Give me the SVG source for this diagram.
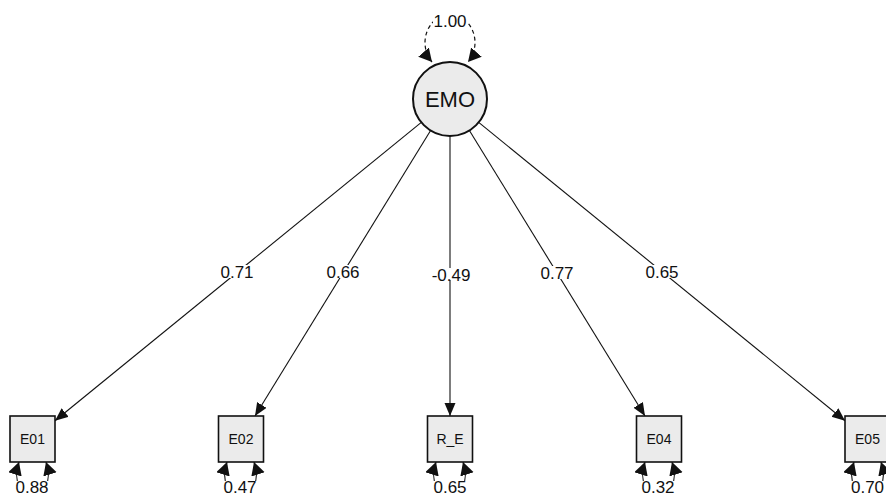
<svg xmlns="http://www.w3.org/2000/svg" width="886" height="496" viewBox="0 0 886 496">
<style>
.lat{fill:#ebebeb;stroke:#111;stroke-width:2}
.man{fill:#ebebeb;stroke:#111;stroke-width:1.6}
.edge{fill:none;stroke:#111;stroke-width:1.1}
.dash{fill:none;stroke:#111;stroke-width:1.2;stroke-dasharray:4 3}
.t{font-family:"Liberation Sans",Arial,sans-serif;fill:#111;text-anchor:middle}
.lbl{font-size:17px}
.box{font-size:14px}
.bg{fill:#fff}
</style>
<defs>
<marker id="ah" markerUnits="userSpaceOnUse" markerWidth="14" markerHeight="12" refX="13" refY="5.5" orient="auto">
<path d="M0,0 L13,5.5 L0,11 z" fill="#111"/>
</marker>
<marker id="eh" markerUnits="userSpaceOnUse" markerWidth="15" markerHeight="15" refX="13" refY="7" orient="auto-start-reverse">
<path d="M0,0 L13,7 L0,14 z" fill="#111"/>
</marker>
</defs>
<rect width="886" height="496" fill="#fff"/>
<g id="connectors">
<path class="edge" d="M421.3,122.4 L55,420.7" marker-end="url(#ah)"/>
<path class="edge" d="M430.6,130.5 L255,416" marker-end="url(#ah)"/>
<path class="edge" d="M450,136 L450,416" marker-end="url(#ah)"/>
<path class="edge" d="M469.4,130.5 L645,416" marker-end="url(#ah)"/>
<path class="edge" d="M478.7,122.4 L845,420.7" marker-end="url(#ah)"/>
<path class="dash" d="M432,62 A25 28 0 1 1 468,62" marker-start="url(#eh)" marker-end="url(#eh)"/>
<path class="edge" d="M19,462 C5,505 60,505 46,462" marker-start="url(#eh)" marker-end="url(#eh)"/>
<path class="edge" d="M227,462 C213,505 268,505 254,462" marker-start="url(#eh)" marker-end="url(#eh)"/>
<path class="edge" d="M436,462 C422,505 477,505 463,462" marker-start="url(#eh)" marker-end="url(#eh)"/>
<path class="edge" d="M645,462 C631,505 686,505 672,462" marker-start="url(#eh)" marker-end="url(#eh)"/>
<path class="edge" d="M854,462 C840,505 895,505 881,462" marker-start="url(#eh)" marker-end="url(#eh)"/>
<rect class="bg" x="220" y="265" width="35" height="13"/>
<rect class="bg" x="325" y="265" width="36" height="13"/>
<rect class="bg" x="429" y="268" width="45" height="12"/>
<rect class="bg" x="539" y="266" width="37" height="13"/>
<rect class="bg" x="644" y="265" width="36" height="13"/>
<rect class="bg" x="433" y="14" width="34" height="13"/>
<rect class="bg" x="14" y="481" width="37" height="15"/>
<rect class="bg" x="222" y="481" width="37" height="15"/>
<rect class="bg" x="431" y="481" width="38" height="15"/>
<rect class="bg" x="639" y="481" width="38" height="15"/>
<rect class="bg" x="849" y="481" width="37" height="15"/>
<text class="t lbl" x="237" y="278">0.71</text>
<text class="t lbl" x="343" y="278">0.66</text>
<text class="t lbl" x="451" y="281">-0.49</text>
<text class="t lbl" x="557" y="279">0.77</text>
<text class="t lbl" x="662" y="278">0.65</text>
<text class="t lbl" x="450" y="27">1.00</text>
</g>
<g id="EMO">
<circle class="lat" cx="450" cy="99" r="37"/>
<text class="t" x="450" y="107" font-size="22">EMO</text>
</g>
<g id="E01">
<rect class="man" x="10" y="416" width="45" height="46"/>
<text class="t box" x="32.5" y="444">E01</text>
<text class="t lbl" x="32" y="493">0.88</text>
</g>
<g id="E02">
<rect class="man" x="218.5" y="416" width="45" height="46"/>
<text class="t box" x="241" y="444">E02</text>
<text class="t lbl" x="240" y="493">0.47</text>
</g>
<g id="R_E">
<rect class="man" x="427.5" y="416" width="45" height="46"/>
<text class="t box" x="450" y="444">R_E</text>
<text class="t lbl" x="450" y="493">0.65</text>
</g>
<g id="E04">
<rect class="man" x="636.5" y="416" width="45" height="46"/>
<text class="t box" x="659" y="444">E04</text>
<text class="t lbl" x="658" y="493">0.32</text>
</g>
<g id="E05">
<rect class="man" x="845" y="416" width="45" height="46"/>
<text class="t box" x="867.5" y="444">E05</text>
<text class="t lbl" x="867.5" y="493">0.70</text>
</g>
</svg>
